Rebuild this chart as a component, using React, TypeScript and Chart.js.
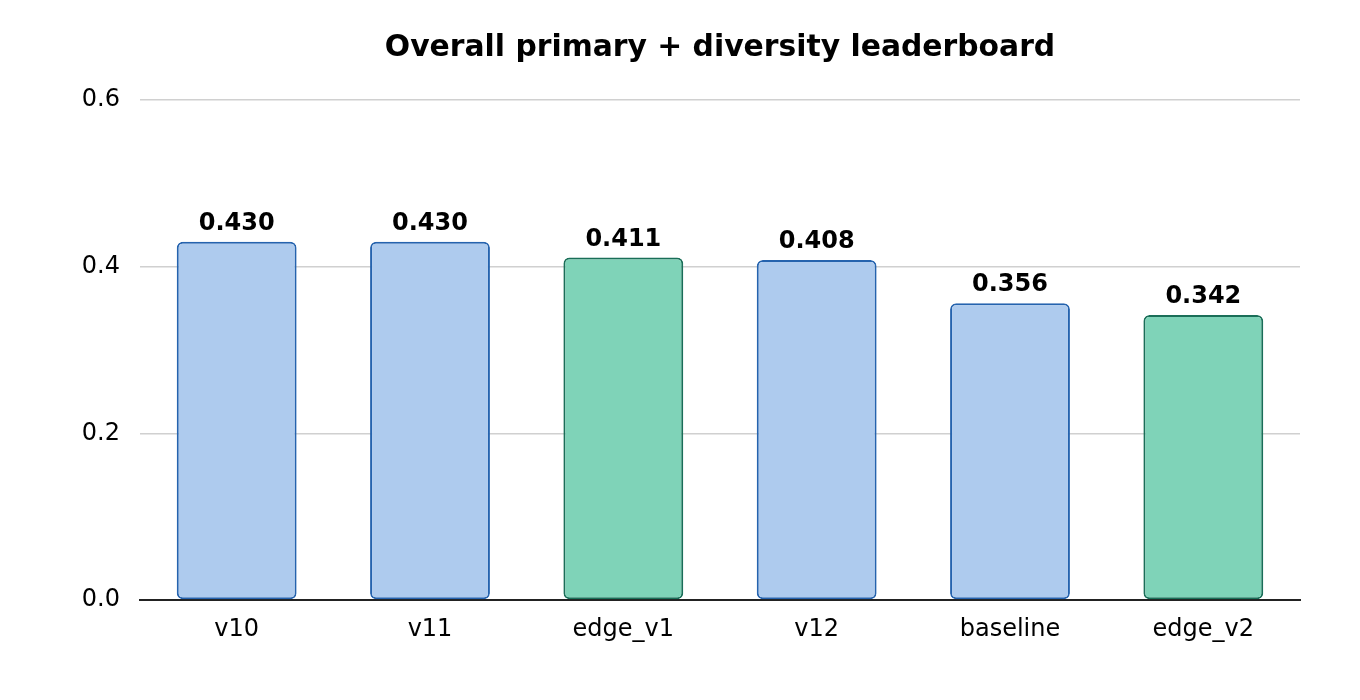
import React, { useEffect, useRef } from 'react';
import { Chart, registerables, Plugin } from 'chart.js';

Chart.register(...registerables);

const categories = ['v10', 'v11', 'edge_v1', 'v12', 'baseline', 'edge_v2'];
const scores = [0.43, 0.43, 0.411, 0.408, 0.356, 0.342];
const isEdge = [false, false, true, false, false, true];
const yTicks = [0, 0.2, 0.4, 0.6];
const chartTitle = 'Overall primary + diversity leaderboard';

const FONT = "'DejaVu Sans', sans-serif";

// value labels drawn above each bar, title centred over the plot area
const barLabels: Plugin<'bar'> = {
  id: 'barLabels',
  afterDatasetsDraw(chart) {
    const { ctx, chartArea } = chart;
    const meta = chart.getDatasetMeta(0);
    ctx.save();
    ctx.fillStyle = '#000';
    ctx.textAlign = 'center';
    ctx.textBaseline = 'alphabetic';
    ctx.font = `bold 24px ${FONT}`;
    meta.data.forEach((bar, i) => {
      ctx.fillText(scores[i].toFixed(3), bar.x, bar.y - 12);
    });
    ctx.font = `bold 29.8px ${FONT}`;
    ctx.fillText(chartTitle, (chartArea.left + chartArea.right) / 2, 56);
    ctx.restore();
  },
};

const App: React.FC = () => {
  const chartRef = useRef<HTMLCanvasElement>(null);
  const chartInstance = useRef<Chart | null>(null);

  useEffect(() => {
    document.body.style.margin = '0';
    if (!chartRef.current) return;
    if (chartInstance.current) chartInstance.current.destroy();
    const ctx = chartRef.current.getContext('2d');
    if (!ctx) return;

    chartInstance.current = new Chart(ctx, {
      type: 'bar',
      data: {
        labels: categories,
        datasets: [
          {
            data: scores,
            backgroundColor: isEdge.map((e) => (e ? '#7fd3b8' : '#aecbee')),
            borderColor: isEdge.map((e) => (e ? '#1a6e58' : '#2563ae')),
            borderWidth: 2,
            borderRadius: 6,
            borderSkipped: false,
            barPercentage: 0.62,
            categoryPercentage: 1,
          },
        ],
      },
      plugins: [barLabels],
      options: {
        animation: false,
        responsive: false,
        layout: { padding: { left: 0, right: 60, top: 100, bottom: 0 } },
        plugins: {
          legend: { display: false },
          tooltip: { enabled: false },
          title: { display: false },
        },
        scales: {
          x: {
            grid: { display: false, drawTicks: false },
            border: { display: true, color: '#222', width: 2 },
            ticks: { color: '#000', font: { family: FONT, size: 24 }, padding: 15 },
            afterFit: (scale) => {
              scale.height = 100;
            },
          },
          y: {
            min: 0,
            max: 0.6,
            afterBuildTicks: (scale) => {
              scale.ticks = yTicks.map((v) => ({ value: v }));
            },
            grid: { color: '#d0d0d0', lineWidth: 1.5, drawTicks: false },
            border: { display: false },
            ticks: {
              color: '#000',
              padding: 20,
              font: { family: FONT, size: 24 },
              callback: (v) => Number(v).toFixed(1),
            },
            afterFit: (scale) => {
              scale.width = 140;
            },
          },
        },
      },
    });

    return () => {
      if (chartInstance.current) chartInstance.current.destroy();
    };
  }, []);

  return (
    <div style={{ width: 1360, height: 700, background: '#fff' }}>
      <canvas ref={chartRef} width={1360} height={700}></canvas>
    </div>
  );
};

export default App;
